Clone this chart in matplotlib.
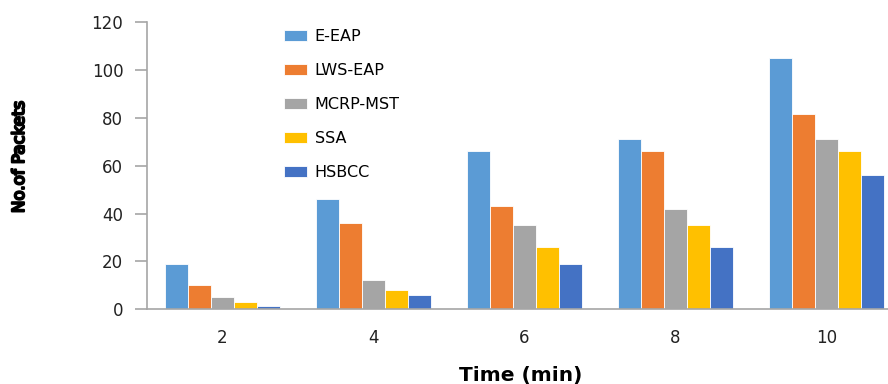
import numpy as np
import matplotlib.pyplot as plt
import matplotlib.patheffects as pe

times = ['2', '4', '6', '8', '10']
series = ['E-EAP', 'LWS-EAP', 'MCRP-MST', 'SSA', 'HSBCC']
e_eap = [19, 46, 66, 71, 105]
lws_eap = [10, 36, 43, 66, 81.5]
mcrp_mst = [5, 12, 35, 42, 71]
ssa = [3, 8, 26, 35, 66]
hsbcc = [1.5, 6, 19, 26, 56]
colors = ['#5B9BD5', '#ED7D31', '#A5A5A5', '#FFC000', '#4472C4']

values = [e_eap, lws_eap, mcrp_mst, ssa, hsbcc]

fig = plt.figure(figsize=(8.88, 3.84), dpi=100)
ax = fig.add_axes([0.1655, 0.195, 0.850, 0.747])

x = np.arange(len(times))
width = 0.153
for i, (name, vals, c) in enumerate(zip(series, values, colors)):
    ax.bar(x + (i - 2) * width, vals, width, color=c, label=name,
           edgecolor='white', linewidth=0.6)

ax.set_xlim(-0.5, len(times) - 0.5)
ax.set_ylim(0, 120)
ax.set_yticks(range(0, 121, 20))
ax.set_xticks(x, times)

for side in ['top', 'right']:
    ax.spines[side].set_visible(False)
for side in ['left', 'bottom']:
    ax.spines[side].set_color('#A6A6A6')
    ax.spines[side].set_linewidth(1.2)

ax.tick_params(axis='y', length=9, width=1.2, color='#A6A6A6',
               labelsize=12, pad=8, labelcolor='#222222')
ax.tick_params(axis='x', length=0, labelsize=12, pad=14, labelcolor='#222222')

# narrow font has no bold face, so thicken it with a stroke
fig.text(19 / 888, 1 - 157 / 384, 'No.of Packets', rotation=90, fontsize=12,
         family='Liberation Sans Narrow', ha='center', va='center',
         path_effects=[pe.withStroke(linewidth=1.5, foreground='black')])
fig.text(521 / 888, 1 - 375 / 384, 'Time (min)', fontsize=14.5,
         fontweight='bold', ha='center', va='center')

leg = ax.legend(loc='upper left', bbox_to_anchor=(0.163, 1.025), frameon=False,
                fontsize=11.5, handlelength=1.4, handleheight=0.7,
                labelspacing=1.18, handletextpad=0.5)

fig.savefig('out.png', dpi=100)
